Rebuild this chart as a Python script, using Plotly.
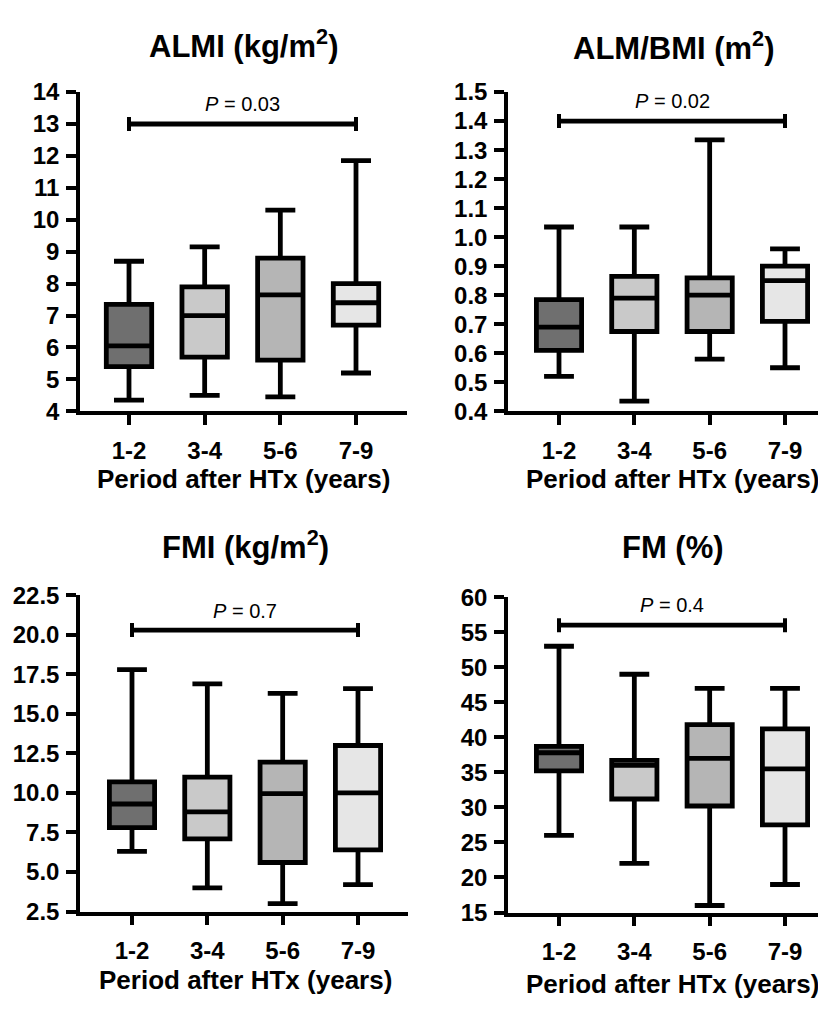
import plotly.graph_objects as go

# ---------------- data ----------------
categories = ["1-2", "3-4", "5-6", "7-9"]

almi_min = [4.35, 4.5, 4.45, 5.2]
almi_q1 = [5.4, 5.7, 5.6, 6.7]
almi_med = [6.05, 7.0, 7.65, 7.4]
almi_q3 = [7.35, 7.9, 8.8, 8.0]
almi_max = [8.7, 9.15, 10.3, 11.85]

almbmi_min = [0.52, 0.435, 0.58, 0.55]
almbmi_q1 = [0.61, 0.675, 0.675, 0.71]
almbmi_med = [0.69, 0.79, 0.80, 0.85]
almbmi_q3 = [0.785, 0.865, 0.86, 0.90]
almbmi_max = [1.035, 1.035, 1.335, 0.96]

fmi_min = [6.3, 4.0, 3.0, 4.2]
fmi_q1 = [7.8, 7.1, 5.6, 6.4]
fmi_med = [9.3, 8.8, 9.95, 10.0]
fmi_q3 = [10.7, 11.0, 11.95, 13.0]
fmi_max = [17.8, 16.9, 16.3, 16.6]

fm_min = [26, 22, 16, 19]
fm_q1 = [35.2, 31.2, 30.2, 27.5]
fm_med = [37.8, 36.0, 37.0, 35.5]
fm_q3 = [38.7, 36.7, 41.8, 41.2]
fm_max = [53, 49, 47, 47]

panel_titles = ["ALMI (kg/m<sup>2</sup>)", "ALM/BMI (m<sup>2</sup>)",
                "FMI (kg/m<sup>2</sup>)", "FM (%)"]
p_values = ["0.03", "0.02", "0.7", "0.4"]
bracket_levels = [13.0, 1.4, 20.3, 56.0]
p_text_levels = [13.62, 1.468, 21.5, 58.9]

y_ranges = [[4, 14], [0.4, 1.5], [2.5, 22.5], [15, 60]]
y_ticks = [
    [4, 5, 6, 7, 8, 9, 10, 11, 12, 13, 14],
    [0.4, 0.5, 0.6, 0.7, 0.8, 0.9, 1.0, 1.1, 1.2, 1.3, 1.4, 1.5],
    [2.5, 5.0, 7.5, 10.0, 12.5, 15.0, 17.5, 20.0, 22.5],
    [15, 20, 25, 30, 35, 40, 45, 50, 55, 60],
]
y_tickformats = ["d", ".1f", ".1f", "d"]
x_title = "Period after HTx (years)"

# ---------------- styling / layout ----------------
W, H = 826, 1009
OFF = 8  # default page body margin, compensated so positions match the page
fills = ["#6f6f6f", "#c9c9c9", "#b5b5b5", "#e6e6e6"]
FONT = "Liberation Sans, Arial, sans-serif"

# page-pixel boxes of each plotting area: (left, right, top, bottom)
px_boxes = [(80, 407, 80, 408), (508, 826, 80, 408),
            (80, 408, 597, 922), (508, 826, 599, 923)]
# category positions (page px) of first and last category
cat_px = [(129, 356), (559, 785), (132, 358), (559, 785)]
title_px = [(243, 31), (673, 33), (245, 545), (673, 548)]
xtitle_px = [(243, 478), (672, 478), (245, 992), (672, 996)]


def fx(px):
    return (px - OFF) / W


def fy(py):
    return 1 - (py - OFF) / H


stats = [
    (almi_min, almi_q1, almi_med, almi_q3, almi_max),
    (almbmi_min, almbmi_q1, almbmi_med, almbmi_q3, almbmi_max),
    (fmi_min, fmi_q1, fmi_med, fmi_q3, fmi_max),
    (fm_min, fm_q1, fm_med, fm_q3, fm_max),
]

fig = go.Figure()
layout = dict(
    width=W, height=H, margin=dict(l=0, r=0, t=0, b=0),
    paper_bgcolor="white", plot_bgcolor="white", showlegend=False,
    font=dict(family=FONT, color="black"),
)
annotations = []
shapes = []
n = len(categories)

for p in range(4):
    sfx = "" if p == 0 else str(p + 1)
    xa, ya = "x" + sfx, "y" + sfx
    lo, q1, md, q3, hi = stats[p]
    for i, cat in enumerate(categories):
        fig.add_trace(go.Box(
            x=[i], lowerfence=[lo[i]], q1=[q1[i]], median=[md[i]],
            q3=[q3[i]], upperfence=[hi[i]],
            orientation="v", width=0.6, whiskerwidth=0.66,
            fillcolor=fills[i], line=dict(color="black", width=4.8),
            boxpoints=False, name=cat, xaxis=xa, yaxis=ya,
            hoverinfo="skip",
        ))
    l, r, t, b = px_boxes[p]
    c0, c1 = cat_px[p]
    step = (c1 - c0) / (n - 1)
    xr = [-(c0 - l) / step, (n - 1) + (r - c1) / step]
    layout["xaxis" + sfx] = dict(
        domain=[fx(l), min(fx(r), 1.0)], range=xr, anchor=ya,
        tickmode="array", tickvals=list(range(n)),
        ticktext=categories, showline=True, linecolor="black", linewidth=3.5,
        ticks="outside", ticklen=10, tickwidth=3.5, tickcolor="black",
        showgrid=False, zeroline=False, ticklabelstandoff=5,
        tickfont=dict(family=FONT, size=24, weight="bold", color="black"),
    )
    layout["yaxis" + sfx] = dict(
        domain=[fy(b), fy(t)], range=y_ranges[p], anchor=xa,
        tickmode="array", tickvals=y_ticks[p], tickformat=y_tickformats[p],
        showline=True, linecolor="black", linewidth=3.5,
        ticks="outside", ticklen=10, tickwidth=3.5, tickcolor="black",
        showgrid=False, zeroline=False, ticklabelstandoff=2,
        tickfont=dict(family=FONT, size=24, weight="bold", color="black"),
    )
    # significance bracket
    shapes.append(dict(type="line", xref=xa, yref=ya, x0=0, x1=n - 1,
                       y0=bracket_levels[p], y1=bracket_levels[p],
                       line=dict(color="black", width=4.8)))
    for xe in (0, n - 1):
        shapes.append(dict(type="line", xref=xa, yref=ya, ysizemode="pixel",
                           yanchor=bracket_levels[p], y0=-7, y1=7, x0=xe, x1=xe,
                           line=dict(color="black", width=4)))
    annotations.append(dict(
        xref=xa, yref=ya, x=(n - 1) / 2, y=p_text_levels[p],
        text="<i>P</i> = " + p_values[p], showarrow=False,
        font=dict(family=FONT, size=20, color="black"),
        xanchor="center", yanchor="middle"))
    # panel title
    tx, ty = title_px[p]
    annotations.append(dict(
        xref="paper", yref="paper", x=fx(tx), y=fy(ty), text=panel_titles[p],
        showarrow=False, xanchor="center", yanchor="middle",
        font=dict(family=FONT, size=31, weight="bold", color="black")))
    # x-axis title
    ax, ay = xtitle_px[p]
    annotations.append(dict(
        xref="paper", yref="paper", x=fx(ax), y=fy(ay), text=x_title,
        showarrow=False, xanchor="center", yanchor="middle",
        font=dict(family=FONT, size=26, weight="bold", color="black")))

layout["annotations"] = annotations
layout["shapes"] = shapes
fig.update_layout(**layout)
fig.write_html("out.html")
